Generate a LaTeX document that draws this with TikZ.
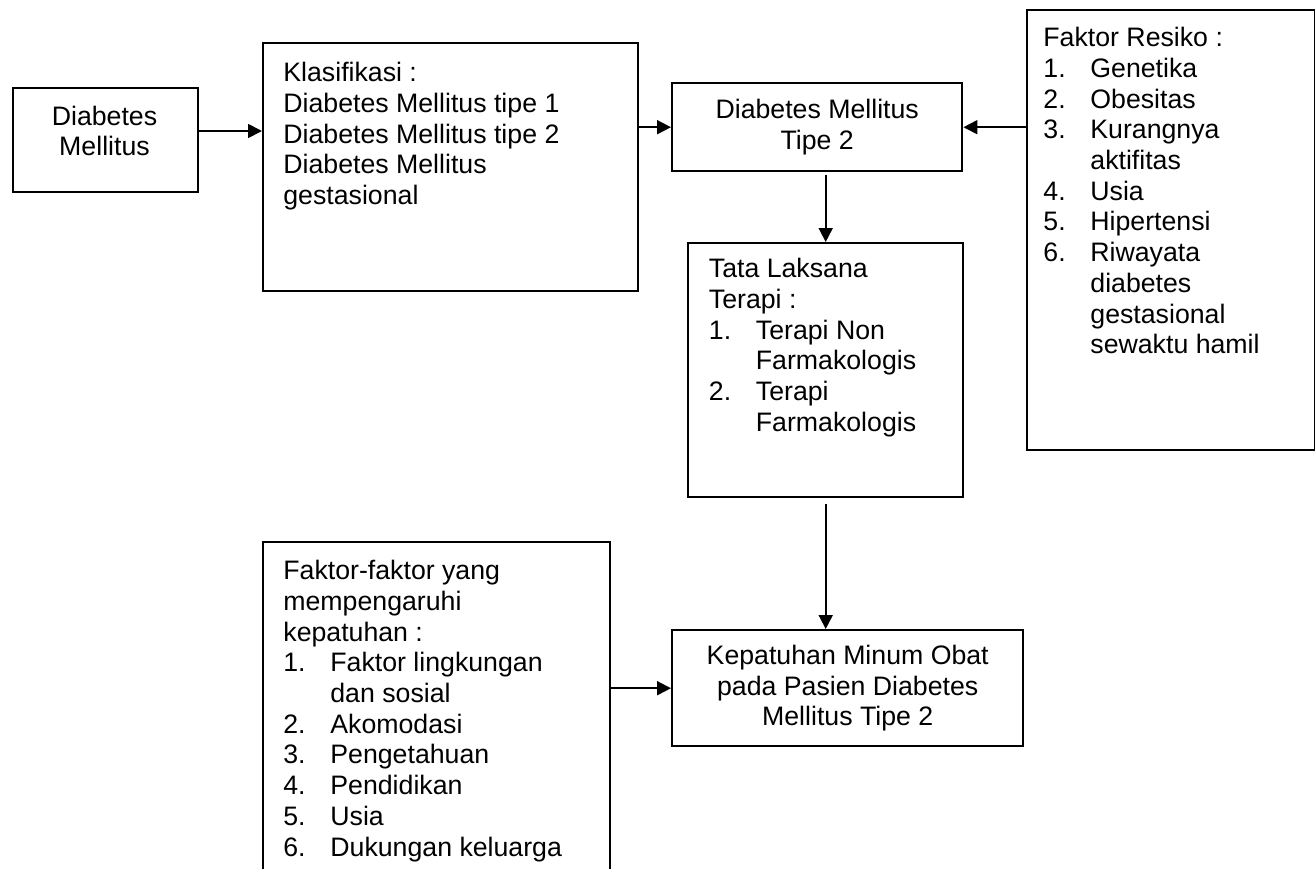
\documentclass[tikz,border=0pt]{standalone}
\usepackage{fontspec}
\setmainfont{Liberation Sans}
\usetikzlibrary{arrows.meta}

\tikzset{
  box/.style={draw, line width=1.2pt, inner sep=0pt, anchor=north west},
  txt/.style={align=left, inner sep=0pt, anchor=north west},
  arr/.style={line width=0.9pt, -{Triangle[length=7pt, width=7pt]}}
}
\newcommand{\itm}[2]{\makebox[23.5pt][l]{#1}#2}
\newcommand{\cnt}[1]{\hspace*{23.5pt}#1}

\begin{document}
\begin{tikzpicture}[x=0.5pt, y=-0.5pt, font=\fontsize{13.35}{15.35}\selectfont]
      \useasboundingbox (0,0) rectangle (1315,868);

      % Diabetes Mellitus
      \node[box, minimum width=92.5pt, minimum height=52pt] (dm) at (12,87) {};
      \node[align=center, inner sep=0pt] (dmtxt) at (104.5,131) {Diabetes\\Mellitus};

      % Klasifikasi
      \node[box, minimum width=187.5pt, minimum height=124pt] (klas) at (262,42) {};
      \node[txt] (klastxt) at (283,62) {Klasifikasi :\\
        Diabetes Mellitus tipe 1\\
        Diabetes Mellitus tipe 2\\
        Diabetes Mellitus\\
        gestasional};

      % Diabetes Mellitus Tipe 2
      \node[box, align=center, minimum width=145pt, minimum height=44pt] (dmt2) at (671,82)
        {Diabetes Mellitus\\Tipe 2};

      % Faktor Resiko
      \node[box, minimum width=144pt, minimum height=220pt] (fr) at (1026,9) {};
      \node[txt] (frtxt) at (1043,27) {Faktor Resiko :\\
        \itm{1.}{Genetika}\\
        \itm{2.}{Obesitas}\\
        \itm{3.}{Kurangnya}\\
        \cnt{aktifitas}\\
        \itm{4.}{Usia}\\
        \itm{5.}{Hipertensi}\\
        \itm{6.}{Riwayata}\\
        \cnt{diabetes}\\
        \cnt{gestasional}\\
        \cnt{sewaktu hamil}};

      % Tata Laksana Terapi
      \node[box, minimum width=137.5pt, minimum height=127pt] (tl) at (687,242) {};
      \node[txt] (tltxt) at (708.5,258) {Tata Laksana\\
        Terapi :\\
        \itm{1.}{Terapi Non}\\
        \cnt{Farmakologis}\\
        \itm{2.}{Terapi}\\
        \cnt{Farmakologis}};

      % Faktor-faktor kepatuhan
      \node[box, minimum width=173.5pt, minimum height=180pt] (ff) at (262,541) {};
      \node[txt] (fftxt) at (283,560) {Faktor-faktor yang\\
        mempengaruhi\\
        kepatuhan :\\
        \itm{1.}{Faktor lingkungan}\\
        \cnt{dan sosial}\\
        \itm{2.}{Akomodasi}\\
        \itm{3.}{Pengetahuan}\\
        \itm{4.}{Pendidikan}\\
        \itm{5.}{Usia}\\
        \itm{6.}{Dukungan keluarga}};

      % Kepatuhan Minum Obat
      \node[box, align=center, minimum width=175.5pt, minimum height=58pt] (kp) at (671,629)
        {Kepatuhan Minum Obat\\pada Pasien Diabetes\\Mellitus Tipe 2};

      % arrows
      \draw[arr] (dmtxt -| dm.east) -- (dmtxt -| klas.west);
      \draw[arr] (dmt2.west -| klas.east) -- (dmt2.west);
      \draw[arr] (dmt2.east -| fr.west) -- (dmt2.east);
      \draw[arr, shorten <=1.5pt] (dmt2.south -| tl.north) -- (tl.north);
      \draw[arr, shorten <=3pt] (tl.south) -- (tl.south |- kp.north);
      \draw[arr] (kp.west -| ff.east) -- (kp.west);
\end{tikzpicture}
\end{document}
